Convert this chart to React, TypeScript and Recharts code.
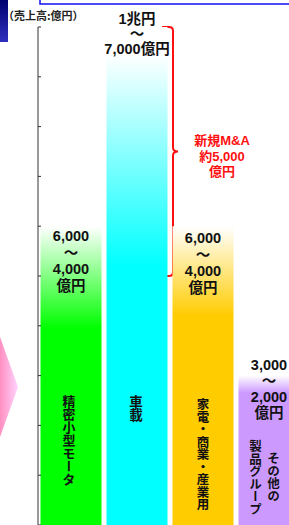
import { BarChart, Bar, XAxis, YAxis, Cell, LabelList, ReferenceArea, Customized } from 'recharts';

// values in 億円
const CATEGORIES = ['精密小型モータ', '車載', '家電・商業・産業用', 'その他の製品グループ'];
const HIGH = [6000, 10000, 6000, 3000];
const LOW = [4000, 7000, 4000, 2000];
const RANGE_TEXT = [
  ['6,000', '～', '4,000', '億円'],
  ['1兆円', '～', '7,000億円'],
  ['6,000', '～', '4,000', '億円'],
  ['3,000', '～', '2,000', '億円'],
];
const NAME_COLUMNS = [['精密小型モータ'], ['車載'], ['家電・商業・産業用'], ['その他の', '製品グループ']];
const Y_TICKS = [0, 1000, 2000, 3000, 4000, 5000, 6000, 7000, 8000, 9000, 10000];
const MA_RANGE = [5000, 10000];
const MA_TEXT = ['新規M&A', '約5,000', '億円'];
const UNIT_TEXT = '（売上高:億円）';

// styling
const COLORS = ['#00FF00', '#00FFFF', '#FFCC00', '#CC99FF'];
const FADE_FROM = [6000, 9450, 6000, 3000];
const FADE_TO = [3950, 5200, 4200, 2650];
const LABEL_DY = [10, -8, 12, -11];
const LINE_H = [16.5, 15, 16.5, 16];
const NAME_TOP = [[130], [130], [127], [73, 85]];
const NAME_DX = [[-2], [-1], [0], [4.5, -13.5]];
const NAME_SIZE = [13, 13.5, 12.5, 12.5];

const FONT = '"Liberation Sans", Arial, "Noto Sans CJK JP", sans-serif';
const JP_FONT = '"Noto Sans CJK JP", sans-serif';

const data = CATEGORIES.map((name, i) => ({ name, high: HIGH[i], low: LOW[i] }));

const RangeLabel = (props: any) => {
  const { x, y, width, index } = props;
  const cx = Number(x) + Number(width) / 2;
  const y0 = Number(y) + LABEL_DY[index];
  return (
    <g>
      {RANGE_TEXT[index].map((line, i) => (
        <text
          key={i}
          x={cx}
          y={y0 + i * LINE_H[index]}
          textAnchor="middle"
          dominantBaseline="central"
          fontSize={14.5}
          fontWeight="bold"
          fontFamily={FONT}
          fill="#111"
        >
          {line}
        </text>
      ))}
    </g>
  );
};

const NameLabel = (props: any) => {
  const { x, y, width, height, index } = props;
  const cx = Number(x) + Number(width) / 2;
  const bottom = Number(y) + Number(height);
  return (
    <g>
      {NAME_COLUMNS[index].map((col, i) => (
        <text
          key={i}
          x={cx + NAME_DX[index][i]}
          y={bottom - NAME_TOP[index][i]}
          style={{ writingMode: 'vertical-rl' }}
          fontSize={NAME_SIZE[index]}
          fontWeight="bold"
          fontFamily={JP_FONT}
          fill="#111"
        >
          {col}
        </text>
      ))}
    </g>
  );
};

const Brace = (props: any) => {
  const { y, height } = props;
  const top = Number(y);
  const bot = top + Number(height);
  const mid = (top + bot) / 2;
  const lx = 162;
  const vx = 173;
  const tx = 178;
  const d = `M${lx},${top} L${vx - 4},${top} Q${vx},${top} ${vx},${top + 4} L${vx},${mid - 4} Q${vx},${mid} ${tx},${mid} Q${vx},${mid} ${vx},${mid + 4} L${vx},${bot - 4} Q${vx},${bot} ${vx - 4},${bot} L${lx},${bot}`;
  return (
    <g>
      <path d={d} fill="none" stroke="#FF1010" strokeWidth={2} />
      {MA_TEXT.map((t, i) => (
        <text
          key={i}
          x={222}
          y={mid - 11 + i * 15.5}
          textAnchor="middle"
          dominantBaseline="central"
          fontSize={13}
          fontWeight="bold"
          fontFamily={FONT}
          fill="#FF1010"
        >
          {t}
        </text>
      ))}
    </g>
  );
};

const Decor = () => (
  <g>
    <defs>
      <linearGradient id="navy" x1="0" y1="0" x2="0" y2="1">
        <stop offset="0" stopColor="#000070" />
        <stop offset="1" stopColor="#3030C0" />
      </linearGradient>
      <linearGradient id="pink" x1="0" y1="0" x2="1" y2="0">
        <stop offset="0" stopColor="#FF8FC0" />
        <stop offset="1" stopColor="#FFD4FF" />
      </linearGradient>
    </defs>
    <rect x={0} y={0} width={8} height={42} fill="url(#navy)" />
    <path d="M40,0 L40,4 L302,4" fill="none" stroke="#1010F0" strokeWidth={1.5} />
    <polygon points="0,337 18,387 0,437" fill="url(#pink)" />
    <text x={3} y={15} dominantBaseline="central" fontSize={11} fontWeight="bold" fontFamily={JP_FONT} fill="#222">
      {UNIT_TEXT}
    </text>
  </g>
);

export default function App() {
  return (
    <div style={{ position: 'absolute', left: 0, top: 0, width: 289, height: 525, overflow: 'hidden', background: '#fff' }}>
      <BarChart width={302} height={525} data={data} margin={{ top: 27, right: 0, bottom: 0, left: 38 }} barCategoryGap={2.5}>
        <defs>
          {COLORS.map((c, i) => (
            <linearGradient key={i} id={`fade-${i}`} x1="0" y1="0" x2="0" y2="1">
              <stop offset={(HIGH[i] - FADE_FROM[i]) / HIGH[i]} stopColor="#FFFFFF" />
              <stop offset={(HIGH[i] - FADE_TO[i]) / HIGH[i]} stopColor={c} />
              <stop offset={1} stopColor={c} />
            </linearGradient>
          ))}
        </defs>
        <XAxis dataKey="name" hide />
        <YAxis
          domain={[0, 10000]}
          ticks={Y_TICKS}
          width={38}
          mirror
          tickSize={3}
          tickFormatter={() => ''}
          axisLine={{ stroke: '#333' }}
          tickLine={{ stroke: '#333' }}
        />
        <Customized component={<Decor />} />
        <Bar dataKey="high" isAnimationActive={false}>
          {data.map((_, i) => (
            <Cell key={i} fill={`url(#fade-${i})`} />
          ))}
          <LabelList dataKey="high" content={<RangeLabel />} />
          <LabelList dataKey="name" content={<NameLabel />} />
        </Bar>
        <ReferenceArea y1={MA_RANGE[0]} y2={MA_RANGE[1]} shape={<Brace />} fill="none" stroke="none" />
      </BarChart>
    </div>
  );
}
